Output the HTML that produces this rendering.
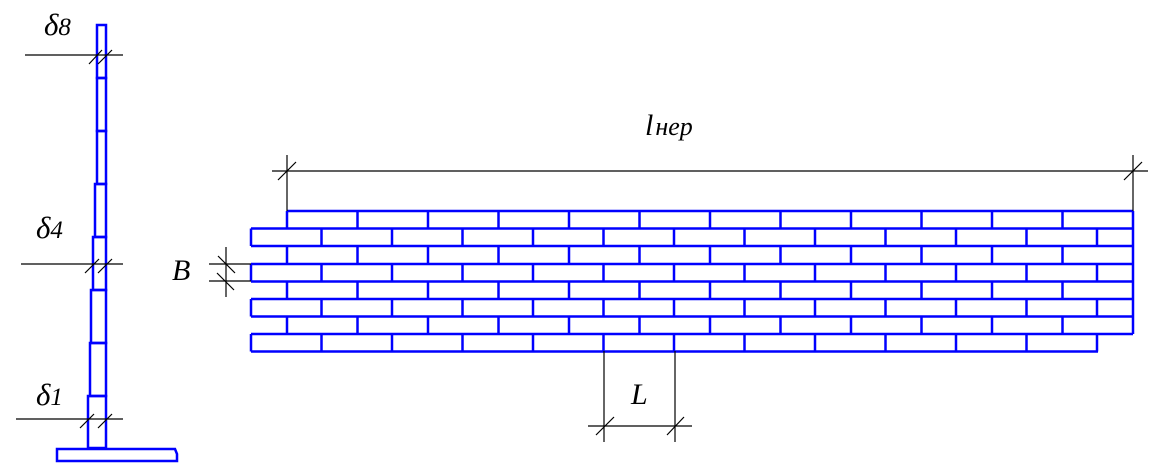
<!DOCTYPE html>
<html><head><meta charset="utf-8"><style>
html,body{margin:0;padding:0;background:#fff;width:1152px;height:476px;overflow:hidden}
text{font-family:"Liberation Serif",serif;font-style:italic;fill:#000}
</style></head><body>
<svg width="1152" height="476" viewBox="0 0 1152 476" xmlns="http://www.w3.org/2000/svg">
<g stroke="#0000ff" stroke-width="2.5" fill="none" id="bricks"></g>
<g stroke="#0000ff" stroke-width="2.5" fill="none">
<rect x="97" y="25" width="9" height="53"/>
<rect x="97" y="78" width="9" height="53"/>
<rect x="97" y="131" width="9" height="53"/>
<rect x="95" y="184" width="11" height="53"/>
<rect x="93" y="237" width="13" height="53"/>
<rect x="91" y="290" width="15" height="53"/>
<rect x="90" y="343" width="16" height="53"/>
<rect x="88" y="396" width="18" height="52"/>
<path d="M57 449 H175 L177 454 V461 H57 Z"/>
</g>
<g stroke="#000" stroke-width="1.2" fill="none">
<line x1="25" y1="55" x2="123" y2="55"/>
<line x1="89" y1="64" x2="102" y2="50"/><line x1="98" y1="64" x2="112" y2="50"/>
<line x1="21" y1="264" x2="123" y2="264"/>
<line x1="85" y1="273" x2="99" y2="259"/><line x1="98" y1="273" x2="112" y2="259"/>
<line x1="16" y1="419" x2="123" y2="419"/>
<line x1="80" y1="428" x2="94" y2="414"/><line x1="98" y1="428" x2="112" y2="414"/>
<line x1="272" y1="171" x2="1148" y2="171"/>
<line x1="287" y1="155" x2="287" y2="211"/><line x1="1133" y1="155" x2="1133" y2="211"/>
<line x1="278" y1="180" x2="296" y2="162"/><line x1="1124" y1="180" x2="1142" y2="162"/>
<line x1="209" y1="264" x2="251" y2="264"/><line x1="209" y1="281" x2="251" y2="281"/>
<line x1="226" y1="247" x2="226" y2="297"/>
<line x1="218" y1="256" x2="235" y2="273"/><line x1="217" y1="273" x2="234" y2="290"/>
<line x1="604" y1="351" x2="604" y2="442"/><line x1="675" y1="351" x2="675" y2="442"/>
<line x1="588" y1="426" x2="692" y2="426"/>
<line x1="596" y1="435" x2="614" y2="417"/><line x1="667" y1="435" x2="684" y2="417"/>
</g>
<text x="44" y="35" font-size="31">δ<tspan font-size="25">8</tspan></text>
<text x="36" y="238" font-size="31">δ<tspan font-size="25">4</tspan></text>
<text x="36" y="405" font-size="31">δ<tspan font-size="25">1</tspan></text>
<text x="645" y="135" font-size="30">l<tspan font-size="26" dx="2">нер</tspan></text>
<text x="172" y="280" font-size="30">B</text>
<text x="631" y="404" font-size="30">L</text>
</svg>
<script>
var g=document.getElementById('bricks'),s='';
var ys=[211,228.5,246,264,281.5,299,316.5,334,351.5];
var st=70.5;
function L(a,b,c,d){s+='<line x1="'+a+'" y1="'+b+'" x2="'+c+'" y2="'+d+'"/>';}
L(287,211,1133,211);
for(var i=1;i<8;i++)L(251,ys[i],1133,ys[i]);
L(251,351.5,1098,351.5);
for(var r=0;r<8;r++){var y0=ys[r],y1=ys[r+1];
 if(r%2==0){for(var k=0;k<=12;k++)L(287+k*st,y0,287+k*st,y1);}
 else{for(var k=0;k<=12;k++)L(251+k*st,y0,251+k*st,y1); if(r!=7)L(1133,y0,1133,y1);}
}
g.innerHTML=s;
</script>
</body></html>
